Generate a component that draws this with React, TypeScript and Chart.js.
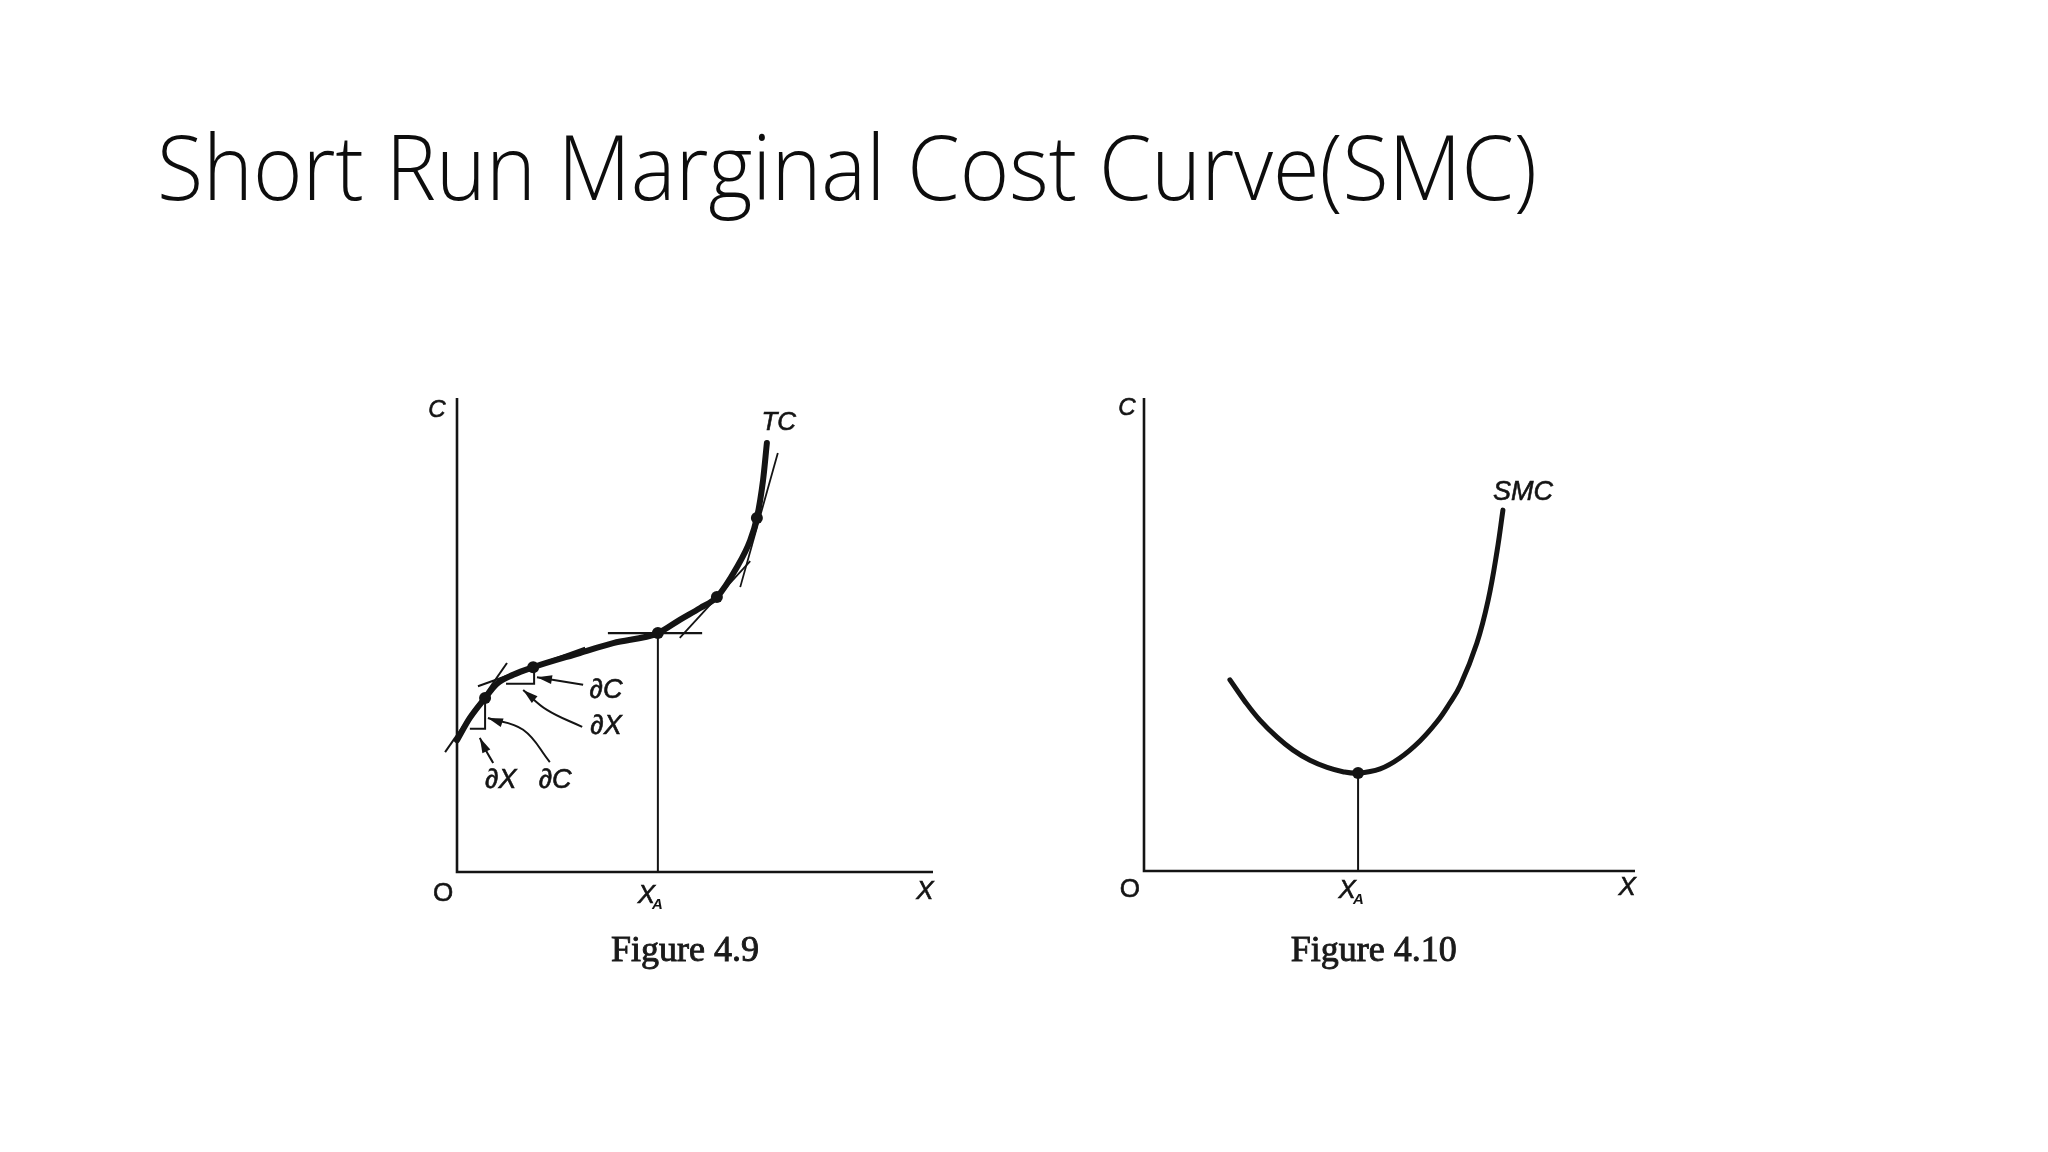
import React, { useEffect, useRef } from "react";
import { Chart, registerables } from "chart.js";
Chart.register(...registerables);

const TITLE = "Short Run Marginal Cost Curve(SMC)";
const CAPTION_9 = "Figure 4.9";
const CAPTION_10 = "Figure 4.10";

// ---------- Figure 4.9 : total cost curve ----------
const tcX = [0, 0.27, 0.59, 0.84, 1.18, 1.6, 2.58, 3.28, 4.22, 4.68, 5.11, 5.46, 5.88, 6.16, 6.3, 6.43, 6.51];
const tcY = [2.78, 3.25, 3.67, 3.97, 4.16, 4.32, 4.62, 4.83, 5.04, 5.32, 5.57, 5.8, 6.43, 7.0, 7.47, 8.27, 9.05];
// points of tangency
const tcPointX = [0.59, 1.6, 4.22, 5.46, 6.3];
const tcPointY = [3.67, 4.32, 5.04, 5.8, 7.47];
// tangent lines [x1, y1, x2, y2]
const tangentA = [-0.25, 2.53, 1.05, 4.41];
const tangentB = [0.44, 3.92, 2.69, 4.73];
const tangentXA = [3.17, 5.04, 5.15, 5.04];
const tangentD = [4.68, 4.94, 6.16, 6.56];
const tangentE = [5.95, 6.01, 6.74, 8.84];
// small ∂X / ∂C triangles under the curve
const boxAX = [0.27, 0.59, 0.59];
const boxAY = [3.02, 3.02, 3.67];
const boxBX = [1.03, 1.62, 1.62];
const boxBY = [3.97, 3.97, 4.32];
// pointer arrows (last point is the tip)
const arrowUpperCX = [2.65, 1.68];
const arrowUpperCY = [3.95, 4.11];
const arrowUpperXX = [2.63, 1.89, 1.39];
const arrowUpperXY = [3.06, 3.42, 3.84];
const arrowLowerXX = [0.76, 0.6, 0.48];
const arrowLowerXY = [2.3, 2.58, 2.83];
const arrowLowerCX = [1.95, 1.39, 0.65];
const arrowLowerCY = [2.32, 3.0, 3.25];
const xA9 = 4.22;
const yA9 = 5.04;

// ---------- Figure 4.10 : short run marginal cost ----------
const smcX = [1.75, 2.06, 2.36, 2.71, 3.03, 3.38, 3.73, 4.05, 4.36, 4.81, 5.21, 5.62, 5.97, 6.21, 6.44, 6.78, 7.01, 7.19, 7.31];
const smcY = [4.04, 3.58, 3.19, 2.83, 2.56, 2.34, 2.19, 2.1, 2.07, 2.16, 2.39, 2.75, 3.16, 3.52, 3.92, 4.82, 5.73, 6.76, 7.63];
const xA10 = 4.36;
const yA10 = 2.07;

// ---------- texts ----------
type Lbl = { t: string; x: number; y: number; font: string; sub?: string };
const IT = "'Liberation Sans', Arial, sans-serif";
const fig9Labels: Lbl[] = [
  { t: "C", x: -0.42, y: 9.73, font: `italic 24px ${IT}` },
  { t: "O", x: -0.29, y: -0.46, font: `26px ${IT}` },
  { t: "X", x: 3.98, y: -0.5, font: `italic 26px ${IT}`, sub: "A" },
  { t: "X", x: 9.83, y: -0.42, font: `italic 26px ${IT}` },
  { t: "TC", x: 6.76, y: 9.47, font: `italic 26px ${IT}` },
  { t: "∂C", x: 3.13, y: 3.82, font: `italic 27px ${IT}` },
  { t: "∂X", x: 3.13, y: 3.06, font: `italic 27px ${IT}` },
  { t: "∂X", x: 0.92, y: 1.94, font: `italic 27px ${IT}` },
  { t: "∂C", x: 2.06, y: 1.94, font: `italic 27px ${IT}` },
];
const fig10Labels: Lbl[] = [
  { t: "C", x: -0.35, y: 9.79, font: `italic 24px ${IT}` },
  { t: "O", x: -0.29, y: -0.4, font: `26px ${IT}` },
  { t: "X", x: 4.14, y: -0.42, font: `italic 26px ${IT}`, sub: "A" },
  { t: "X", x: 9.84, y: -0.36, font: `italic 26px ${IT}` },
  { t: "SMC", x: 7.72, y: 8.01, font: `italic 27px ${IT}` },
];
const fig9Caption = { t: CAPTION_9, x: 4.79, y: -1.88 };
const fig10Caption = { t: CAPTION_10, x: 4.68, y: -1.9 };

// ---------- helpers ----------
const zip = (xs: number[], ys: number[]) => xs.map((x, i) => ({ x, y: ys[i] }));
const seg = (s: number[]) => [
  { x: s[0], y: s[1] },
  { x: s[2], y: s[3] },
];
const INK = "#141414";

function lineDs(data: any[], width: number, extra: any = {}) {
  return {
    data,
    showLine: true,
    borderColor: INK,
    backgroundColor: INK,
    borderWidth: width,
    pointRadius: 0,
    pointHoverRadius: 0,
    fill: false,
    tension: 0,
    clip: false,
    ...extra,
  };
}

const annotPlugin = {
  id: "annot",
  afterDatasetsDraw(chart: any, _args: any, opts: any) {
    const ctx: CanvasRenderingContext2D = chart.ctx;
    const sx = chart.scales.x;
    const sy = chart.scales.y;
    ctx.save();
    // arrow heads
    chart.data.datasets.forEach((ds: any, i: number) => {
      if (!ds.arrow) return;
      const pts = chart.getDatasetMeta(i).data;
      const n = pts.length;
      const tip = pts[n - 1];
      let fx = pts[n - 2].x;
      let fy = pts[n - 2].y;
      if (tip.cp1x !== undefined && (Math.abs(tip.cp1x - tip.x) > 0.5 || Math.abs(tip.cp1y - tip.y) > 0.5)) {
        fx = tip.cp1x;
        fy = tip.cp1y;
      }
      const ang = Math.atan2(tip.y - fy, tip.x - fx);
      const len = 15;
      const hw = 4.4;
      const bx = tip.x - Math.cos(ang) * len;
      const by = tip.y - Math.sin(ang) * len;
      const px = -Math.sin(ang) * hw;
      const py = Math.cos(ang) * hw;
      ctx.fillStyle = INK;
      ctx.beginPath();
      ctx.moveTo(tip.x, tip.y);
      ctx.lineTo(bx + px, by + py);
      ctx.lineTo(bx - px, by - py);
      ctx.closePath();
      ctx.fill();
    });
    // labels
    ctx.fillStyle = INK;
    ctx.strokeStyle = INK;
    ctx.lineWidth = 0.6;
    ctx.textAlign = "center";
    ctx.textBaseline = "middle";
    (opts.labels || []).forEach((l: Lbl) => {
      const px = sx.getPixelForValue(l.x);
      const py = sy.getPixelForValue(l.y);
      ctx.font = l.font;
      if (l.sub) {
        const w = ctx.measureText(l.t).width;
        ctx.textAlign = "left";
        ctx.fillText(l.t, px - w / 2, py);
        ctx.strokeText(l.t, px - w / 2, py);
        ctx.font = `italic bold 15px ${IT}`;
        ctx.fillText(l.sub, px + w / 2 - 3, py + 9);
        ctx.textAlign = "center";
      } else {
        ctx.fillText(l.t, px, py);
        ctx.strokeText(l.t, px, py);
      }
    });
    if (opts.caption) {
      const c = opts.caption;
      ctx.font = "36px 'Liberation Serif', 'Times New Roman', serif";
      ctx.textBaseline = "alphabetic";
      ctx.fillStyle = "#1a1a1a";
      ctx.strokeStyle = "#1a1a1a";
      ctx.lineWidth = 0.9;
      const cx = sx.getPixelForValue(c.x);
      const cy = sy.getPixelForValue(c.y);
      ctx.fillText(c.t, cx, cy);
      ctx.strokeText(c.t, cx, cy);
    }
    ctx.restore();
  },
};

type Frame = { L: number; T: number; W: number; H: number; ox: number; oy: number; xu: number; yu: number };
const frame9: Frame = { L: 419, T: 379, W: 543, H: 607, ox: 457, oy: 872, xu: 47.6, yu: 47.4 };
const frame10: Frame = { L: 1100, T: 379, W: 570, H: 607, ox: 1144, oy: 871, xu: 49.1, yu: 47.3 };

function makeConfig(f: Frame, datasets: any[], labels: Lbl[], caption: any): any {
  return {
    type: "scatter",
    data: { datasets },
    plugins: [annotPlugin],
    options: {
      animation: false,
      responsive: false,
      devicePixelRatio: 1,
      layout: { padding: 0, autoPadding: false },
      events: [],
      plugins: {
        legend: { display: false },
        tooltip: { enabled: false },
        title: { display: false },
        annot: { labels, caption },
      },
      scales: {
        x: {
          type: "linear",
          display: false,
          min: (f.L - f.ox) / f.xu,
          max: (f.L + f.W - f.ox) / f.xu,
        },
        y: {
          type: "linear",
          display: false,
          min: (f.oy - f.T - f.H) / f.yu,
          max: (f.oy - f.T) / f.yu,
        },
      },
    },
  };
}

const tcStyle = { cubicInterpolationMode: "monotone", borderCapStyle: "round", borderJoinStyle: "round" };
const smcStyle = { tension: 0.4, borderCapStyle: "round", borderJoinStyle: "round" };

function fig9Datasets() {
  const axes = [
    { x: 0, y: 10 },
    { x: 0, y: 0 },
    { x: 10, y: 0 },
  ];
  const arrow = { arrow: true, tension: 0.4 };
  return [
    lineDs(axes, 2.6),
    lineDs(
      [
        { x: xA9, y: 0 },
        { x: xA9, y: yA9 },
      ],
      2
    ),
    lineDs(seg(tangentA), 2),
    lineDs(seg(tangentB), 2),
    lineDs(seg(tangentXA), 2.2),
    lineDs(seg(tangentD), 1.8),
    lineDs(seg(tangentE), 1.8),
    lineDs(zip(boxAX, boxAY), 2),
    lineDs(zip(boxBX, boxBY), 2),
    lineDs(zip(arrowUpperCX, arrowUpperCY), 2, arrow),
    lineDs(zip(arrowUpperXX, arrowUpperXY), 2, arrow),
    lineDs(zip(arrowLowerXX, arrowLowerXY), 2, arrow),
    lineDs(zip(arrowLowerCX, arrowLowerCY), 2, arrow),
    lineDs(zip(tcX, tcY), 6, tcStyle),
    {
      data: zip(tcPointX, tcPointY),
      showLine: false,
      pointRadius: 6,
      pointBackgroundColor: INK,
      pointBorderColor: INK,
      pointBorderWidth: 0,
      clip: false,
    },
  ];
}

function fig10Datasets() {
  const axes = [
    { x: 0, y: 10 },
    { x: 0, y: 0 },
    { x: 10, y: 0 },
  ];
  return [
    lineDs(axes, 2.6),
    lineDs(
      [
        { x: xA10, y: 0 },
        { x: xA10, y: yA10 },
      ],
      2
    ),
    lineDs(zip(smcX, smcY), 5, smcStyle),
    {
      data: [{ x: xA10, y: yA10 }],
      showLine: false,
      pointRadius: 6,
      pointBackgroundColor: INK,
      pointBorderColor: INK,
      pointBorderWidth: 0,
      clip: false,
    },
  ];
}

const TITLE_LEFT = 157;
const TITLE_WIDTH = 1380;

export default function App() {
  const c9 = useRef<HTMLCanvasElement>(null);
  const c10 = useRef<HTMLCanvasElement>(null);
  const titleRef = useRef<HTMLSpanElement>(null);

  useEffect(() => {
    const ch9 = new Chart(c9.current as HTMLCanvasElement, makeConfig(frame9, fig9Datasets(), fig9Labels, fig9Caption));
    const ch10 = new Chart(c10.current as HTMLCanvasElement, makeConfig(frame10, fig10Datasets(), fig10Labels, fig10Caption));
    const t = titleRef.current;
    if (t) {
      const w = t.getBoundingClientRect().width;
      if (w > 0) t.style.transform = `scaleX(${TITLE_WIDTH / w})`;
    }
    return () => {
      ch9.destroy();
      ch10.destroy();
    };
  }, []);

  const canvasStyle = (f: Frame): React.CSSProperties => ({
    position: "absolute",
    left: f.L,
    top: f.T,
    width: f.W,
    height: f.H,
  });

  return (
    <div
      style={{
        position: "absolute",
        left: 0,
        top: 0,
        width: 2048,
        height: 1152,
        background: "#ffffff",
        overflow: "hidden",
      }}
    >
      <span
        ref={titleRef}
        style={{
          position: "absolute",
          left: TITLE_LEFT,
          top: 120,
          fontFamily: "'Open Sans', 'Noto Sans', sans-serif",
          fontWeight: 300,
          fontSize: 90,
          lineHeight: 1,
          whiteSpace: "nowrap",
          color: "#0d0d0d",
          transformOrigin: "0 0",
          display: "inline-block",
        }}
      >
        {TITLE}
      </span>
      <canvas ref={c9} width={frame9.W} height={frame9.H} style={canvasStyle(frame9)} />
      <canvas ref={c10} width={frame10.W} height={frame10.H} style={canvasStyle(frame10)} />
    </div>
  );
}
